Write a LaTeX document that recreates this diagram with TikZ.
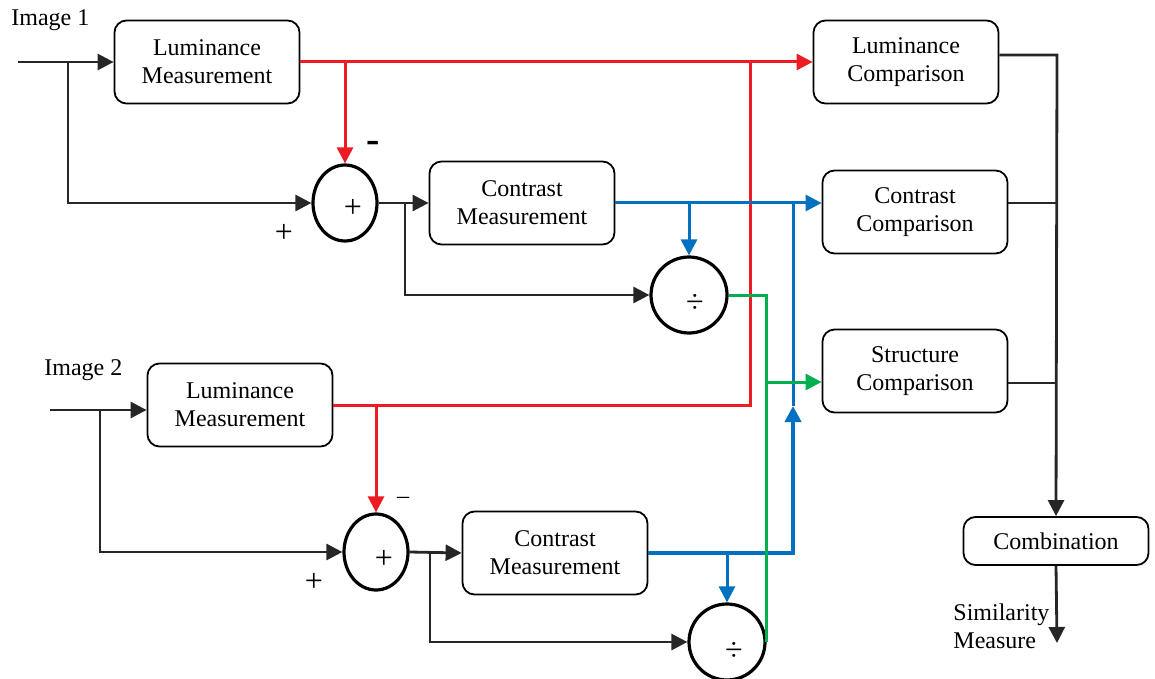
\documentclass[tikz,border=0pt]{standalone}
\usepackage{fontspec}
\setmainfont{Liberation Serif}
\usetikzlibrary{arrows.meta,shapes.geometric,calc}
\definecolor{lumred}{RGB}{237,28,36}
\definecolor{conblue}{RGB}{0,112,192}
\definecolor{strgreen}{RGB}{0,176,80}
\begin{document}
\begin{tikzpicture}[x=0.5pt,y=-0.5pt,
  font=\fontsize{12}{14}\selectfont,
  blk/.style={draw, line width=0.9pt, rounded corners=6pt, align=center,
    minimum width=92.5pt, minimum height=41.5pt, inner sep=2pt},
  sumop/.style={draw, ellipse, line width=1.6pt, minimum width=32pt,
    minimum height=38pt, inner sep=0pt},
  divop/.style={draw, circle, line width=1.6pt, minimum size=38pt, inner sep=0pt},
  sign/.style={font=\fontsize{16}{16}\selectfont, inner sep=0pt},
  tip/.style={-{Triangle[length=8pt,width=8pt]}},
  wire/.style={line width=1.4pt, black!85},
  arr/.style={wire, tip},
  redw/.style={line width=1.5pt, lumred},
  redarr/.style={redw, tip},
  bluew/.style={line width=1.5pt, conblue},
  bluearr/.style={bluew, tip},
  greenw/.style={line width=1.5pt, strgreen},
  greenarr/.style={greenw, tip}
]
\useasboundingbox (0,0) rectangle (1155,679);

% processing blocks
\node[blk] (lm1) at (207,62) {Luminance\\Measurement};
\node[blk] (cm1) at (522,203) {Contrast\\Measurement};
\node[blk] (lm2) at (240,405) {Luminance\\Measurement};
\node[blk] (cm2) at (555,553) {Contrast\\Measurement};
\node[blk] (lc) at (906,62) {Luminance\\Comparison};
\node[blk] (cc) at (915,212) {Contrast\\Comparison};
\node[blk] (sc) at (915,371) {Structure\\Comparison};
\node[blk, minimum height=24pt] (cb) at (1056,541) {Combination};

% operators
\node[sumop] (p1) at (345,203) {};
\node[sign] (p1s) at (353,208) {+};
\node[sumop] (p2) at (376,552) {};
\node[sign] (p2s) at (384,559) {+};
\node[divop] (d1) at (689,295) {};
\node[sign] (d1s) at (695,303) {÷};
\node[divop] (d2) at (727,642) {};
\node[sign] (d2s) at (734,651) {÷};

% labels
\node[anchor=west, inner sep=0pt] (im1) at (11,20) {Image 1};
\node[anchor=west, inner sep=0pt] (im2) at (44,370) {Image 2};
\node[sign] (p1plus) at (284,233) {+};
\node[sign] (p2plus) at (314,582) {+};
\node[font=\bfseries\fontsize{20}{20}\selectfont, inner sep=0pt] (p1minus) at (373,147) {-};
\node[inner sep=0pt] (p2minus) at (403,500) {–};
\node[anchor=west, align=left, inner sep=0pt] (simm) at (953,626) {Similarity\\Measure};

% junction points
\coordinate (in1) at (18,62);
\coordinate (j1) at (68,62);
\coordinate (in2) at (50,410);
\coordinate (j2) at (100,410);
\coordinate (r1) at (345,62);
\coordinate (rj) at (750,62);
\coordinate (r2) at (376,405);
\coordinate (k1) at (405,203);
\coordinate (k2) at (430,552);
\coordinate (b1) at (689,203);
\coordinate (b2) at (727,552);
\coordinate (ba) at (793,406);
\coordinate (bt) at (793,203);
\coordinate (g1) at ($(d2.east |- sc.west)+(0,11)$);
\coordinate (bus) at (1057,55);
\coordinate (out) at (1057,643);

% image 1 inputs
\draw[arr] (in1) -- (lm1.west);
\draw[arr] (j1) |- (p1.west);
% image 2 inputs
\draw[arr] (in2) -- (in2 -| lm2.west);
\draw[arr] (j2) |- (p2.west);

% luminance paths
\draw[redarr] (lm1.east) -- (lc.west);
\draw[redarr] (r1) -- (p1.north);
\draw[redw] (lm2.east) -| (rj);
\draw[redarr] (r2) -- (p2.north);

% mean-removed signals
\draw[arr] (p1.east) -- (cm1.west);
\draw[arr] (k1) |- (d1.west);
\draw[arr] (p2.east) -- (cm2.west);
\draw[arr] (k2) |- (d2.west);

% contrast paths
\draw[bluearr] (cm1.east) -- (cm1.east -| cc.west);
\draw[bluearr] (b1) -- (d1.north);
\draw[bluearr, line width=2.2pt] (cm2.east) -| (ba);
\draw[bluew] (ba) -- (bt);
\draw[bluearr] (b2) -- (d2.north);

% structure paths
\draw[greenarr] (d1.east) -| (g1) -- (g1 -| sc.west);
\draw[greenw] (d2.east) -- (g1);

% combination bus
\draw[arr] (lc.east |- bus) -- (bus) -- (cb.north);
\draw[wire] (cc.east |- bt) -- (bt -| bus);
\draw[wire] ($(sc.east)+(0,12)$) -- ($(sc.east -| bus)+(0,12)$);
\draw[arr] (cb.south) -- (out);
\end{tikzpicture}
\end{document}
